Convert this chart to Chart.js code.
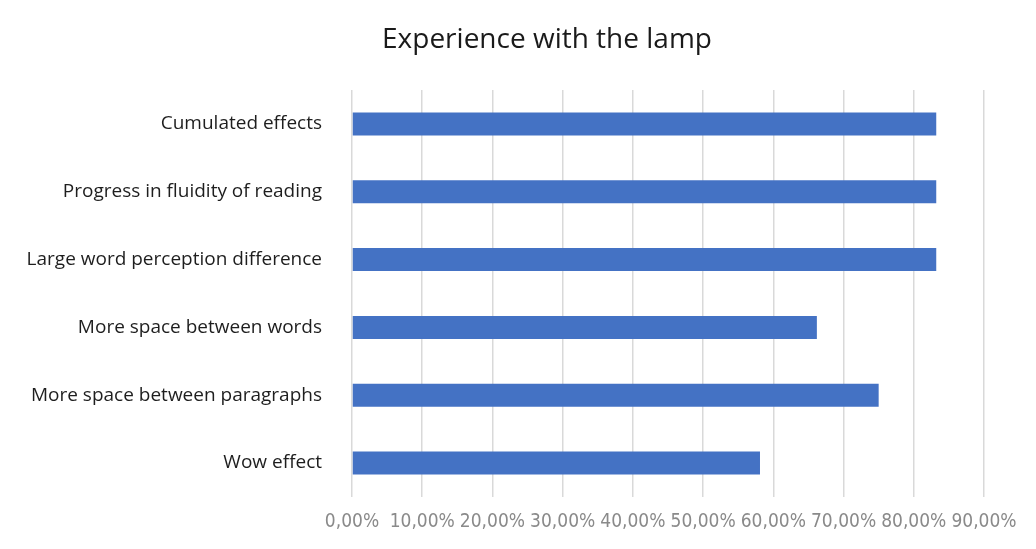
<!DOCTYPE html>
<html>
<head>
<meta charset="utf-8">
<script src="https://cdn.jsdelivr.net/npm/chart.js@4"></script>
<style>
  html, body { margin: 0; padding: 0; background: #fff; }
  #wrap { width: 1036px; height: 549px; }
</style>
</head>
<body>
<div id="wrap"><canvas id="lampChart" width="1036" height="549"></canvas></div>
<script>
// survey answers (share of respondents, %)
const categories = [
    "Cumulated effects",
    "Progress in fluidity of reading",
    "Large word perception difference",
    "More space between words",
    "More space between paragraphs",
    "Wow effect"
];
const shares = [83.2, 83.2, 83.2, 66.2, 75.0, 58.1];
const xTicks = [0, 10, 20, 30, 40, 50, 60, 70, 80, 90];
const chartTitle = "Experience with the lamp";

const BAR_BLUE = "#4472C4";

// title sits a bit right of the page centre, so it is drawn by hand
const titlePlugin = {
    id: 'lampTitle',
    afterDraw(chart) {
        const c = chart.ctx;
        c.save();
        c.font = "28px 'Open Sans', sans-serif";
        c.fillStyle = "#1a1a1a";
        c.textAlign = 'center';
        c.textBaseline = 'middle';
        c.fillText(chartTitle, 547, 40);
        c.restore();
    }
};

const ctx = document.getElementById('lampChart').getContext('2d');

new Chart(ctx, {
    type: 'bar',
    data: {
        labels: categories,
        datasets: [{
            data: shares,
            backgroundColor: BAR_BLUE,
            borderWidth: 0,
            barPercentage: 0.68,
            categoryPercentage: 0.5
        }]
    },
    plugins: [titlePlugin],
    options: {
        indexAxis: 'y',
        responsive: false,
        animation: false,
        layout: { padding: { left: 0, right: 52, top: 90, bottom: 0 } },
        plugins: {
            legend: { display: false },
            tooltip: { enabled: false },
            title: { display: false }
        },
        scales: {
            x: {
                min: 0,
                max: 90,
                afterBuildTicks: scale => {
                    scale.ticks = xTicks.map(v => ({ value: v }));
                },
                afterFit: scale => { scale.height = 52; },
                grid: { color: "#d9d9d9", lineWidth: 1.5, drawTicks: false },
                border: { display: false },
                ticks: {
                    padding: 14,
                    maxRotation: 0,
                    minRotation: 0,
                    autoSkip: false,
                    color: "#8a8a8a",
                    font: { family: "'Liberation Sans Narrow', 'DejaVu Sans Condensed', sans-serif", size: 19 },
                    callback: v => v.toFixed(2).replace('.', ',') + '%'
                }
            },
            y: {
                afterFit: scale => { scale.width = 352; },
                grid: { display: false },
                border: { display: false },
                ticks: {
                    padding: 22,
                    color: "#1e1e1e",
                    font: { family: "'Open Sans', sans-serif", size: 19 }
                }
            }
        }
    }
});
</script>
</body>
</html>
